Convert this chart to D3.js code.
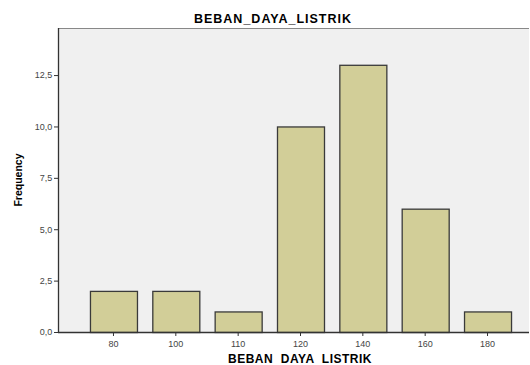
<!DOCTYPE html>
<html><head><meta charset="utf-8">
<script src="https://cdn.jsdelivr.net/npm/d3@7/dist/d3.min.js"></script>
<style>body{margin:0;background:#fff}svg{display:block}</style>
</head><body>
<svg id="c" width="530" height="365"></svg>
<script>
const categories = ["80","100","110","120","140","160","180"];
const frequencies = [2,2,1,10,13,6,1];
const yTicks = [0,2.5,5,7.5,10,12.5];
const title = "BEBAN_DAYA_LISTRIK";
const xTitle = "BEBAN  DAYA  LISTRIK";
const yTitle = "Frequency";

const svg = d3.select("#c");
const plotL = 58, plotR = 529, plotT = 28, plotB = 332;
const font = "Arial, 'Liberation Sans', sans-serif";

svg.append("rect").attr("x",plotL).attr("y",plotT).attr("width",plotR-plotL).attr("height",plotB-plotT).attr("fill","#f0f0f0");
svg.append("line").attr("x1",plotL).attr("x2",plotR).attr("y1",plotT+0.5).attr("y2",plotT+0.5).attr("stroke","#888").attr("stroke-width",1.2);

const x = d3.scaleBand().domain(categories).range([82.3,518.7]).paddingInner(0.246).paddingOuter(0.123);
const y = d3.scaleLinear().domain([0,14.79]).range([plotB,plotT]);

svg.selectAll("rect.bar").data(categories).enter().append("rect").attr("class","bar")
  .attr("x",d=>x(d)+0.5).attr("y",(d,i)=>y(frequencies[i])+0.5)
  .attr("width",x.bandwidth()).attr("height",(d,i)=>y(0)-y(frequencies[i]))
  .attr("fill","#d2ce98").attr("stroke","#3a3a3a").attr("stroke-width",1.3);

const xAxis = d3.axisBottom(x).tickSize(4).tickSizeOuter(0);
const gx = svg.append("g").attr("transform",`translate(0,${plotB})`).call(xAxis);
gx.select(".domain").remove();
gx.append("line").attr("x1",plotL).attr("x2",plotR).attr("y1",0.5).attr("y2",0.5).attr("stroke","#333").attr("stroke-width",1.3);
gx.selectAll(".tick line").attr("stroke","#333");
gx.selectAll(".tick text").attr("font-family",font).attr("font-size",9).attr("fill","#444").attr("dy","0.85em");

const yAxis = d3.axisLeft(y).tickValues(yTicks).tickSize(4).tickFormat(d=>d3.format(".1f")(d).replace(".",","));
const gy = svg.append("g").attr("transform",`translate(${plotL},0)`).call(yAxis);
gy.select(".domain").remove();
gy.append("line").attr("x1",0.5).attr("x2",0.5).attr("y1",plotT).attr("y2",plotB).attr("stroke","#333").attr("stroke-width",1.3);
gy.selectAll(".tick line").attr("stroke","#333");
gy.selectAll(".tick text").attr("font-family",font).attr("font-size",9).attr("fill","#444").attr("dx","0.15em");

svg.append("text").attr("x",273).attr("y",23).attr("text-anchor","middle").attr("letter-spacing",1)
  .attr("font-family",font).attr("font-weight","bold").attr("font-size",12.5).text(title);
svg.append("text").attr("x",300).attr("y",363).attr("text-anchor","middle").attr("letter-spacing",0.5)
  .style("white-space","pre")
  .attr("font-family",font).attr("font-weight","bold").attr("font-size",12).text(xTitle);
svg.append("text").attr("transform","translate(22,180) rotate(-90)").attr("text-anchor","middle")
  .attr("font-family",font).attr("font-weight","bold").attr("font-size",10.5).text(yTitle);
</script>
</body></html>
